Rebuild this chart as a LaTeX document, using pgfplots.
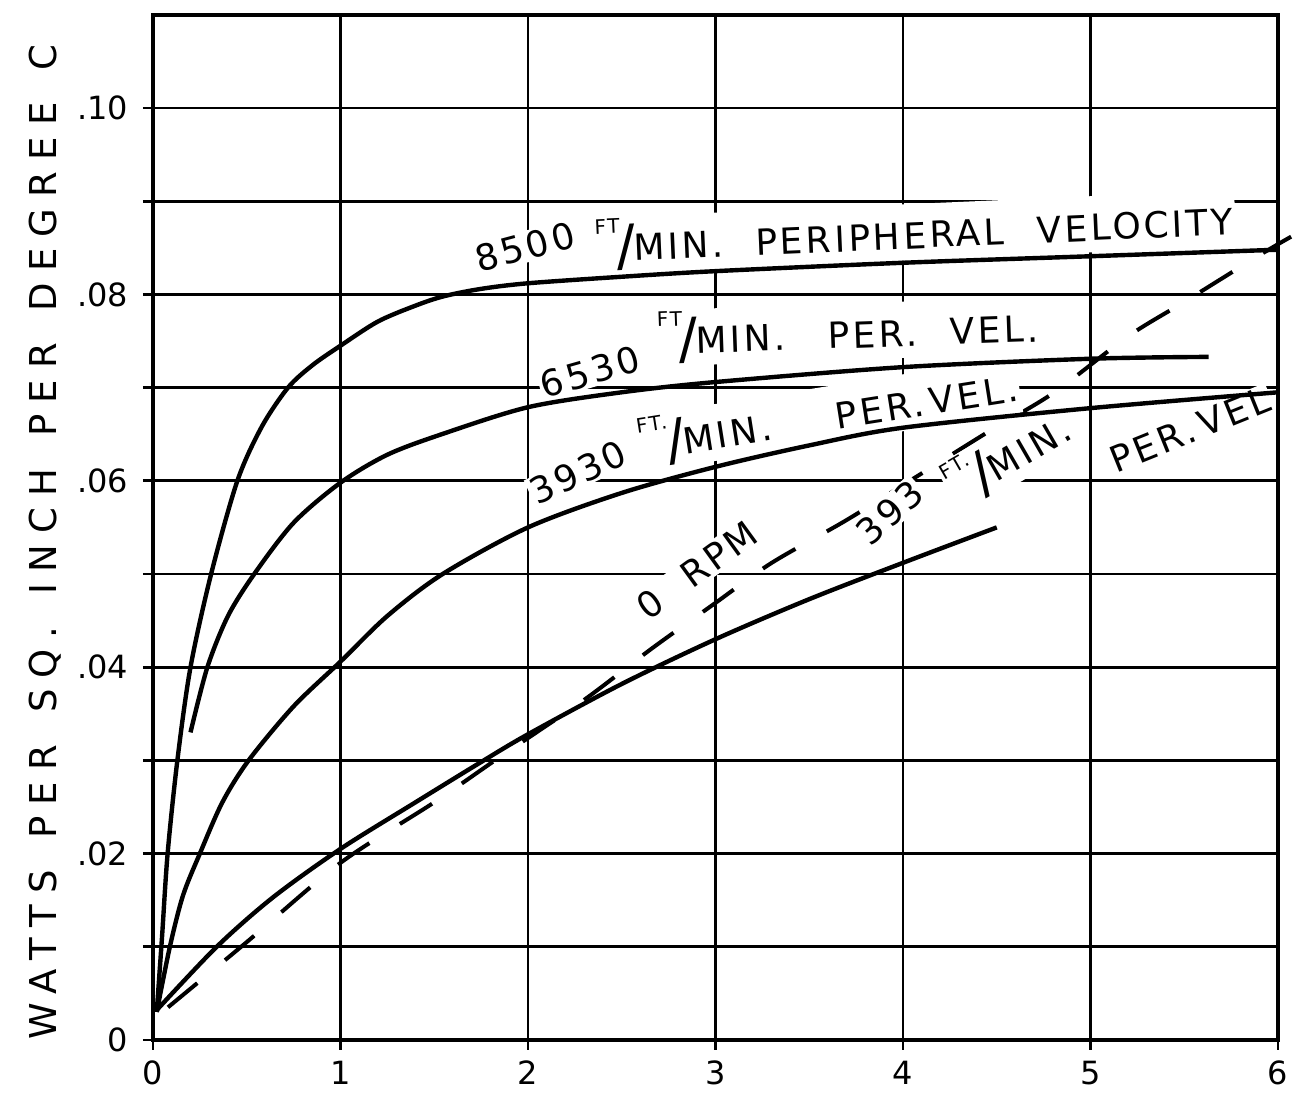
\documentclass[border=0pt]{standalone}
\usepackage{pgfplots}
\pgfplotsset{compat=1.18}
\usepackage{fontspec}
\setmainfont{DejaVu Sans}
\newcommand{\lab}{\fontsize{18}{20}\selectfont\addfontfeature{LetterSpace=9}}
\newcommand{\ft}[1]{\raisebox{0.78em}{\fontsize{10}{10}\selectfont #1}\kern-2pt\raisebox{-0.12em}{\fontsize{28}{28}\selectfont /}\kern-1pt}
\newcommand{\wg}{\hspace{0.9em}}
\tikzset{lbl/.style={fill=white, inner sep=1pt, font=\lab}}
\begin{document}
\begin{tikzpicture}
\begin{axis}[
  scale only axis, width=562.5pt, height=512.5pt,
  xmin=0, xmax=6, ymin=0, ymax=0.11,
  xtick={0,1,2,3,4,5,6}, xticklabels={0,1,2,3,4,5,6},
  ytick={0,0.01,0.02,0.03,0.04,0.05,0.06,0.07,0.08,0.09,0.10},
  yticklabels={0,,.02,,.04,,.06,,.08,,.10},
  tick pos=left, tick align=outside, major tick length=5pt,
  grid=major, major grid style={black, line width=1.4pt},
  axis line style={line width=2.4pt},
  tick style={black, line width=1.4pt},
  ticklabel style={font=\fontsize{16}{16}\selectfont},
  yticklabel style={xshift=-4pt},
  xticklabel style={yshift=-2pt},
  clip=false,
]
% 0 RPM dashed line
\addplot[black, line width=2pt, dash pattern=on 19pt off 18pt, smooth] coordinates {
 (0.08,0.0035) (0.5,0.0105) (1.0,0.019) (1.5,0.0255) (1.86,0.0305) (2.3,0.0365) (2.66,0.042) (3.0,0.0469) (3.3,0.0512) (3.7,0.0558) (4.1,0.0608) (4.45,0.0652) (4.8,0.0694) (5.2,0.0755) (5.5,0.0792) (5.9,0.0842) (6.07,0.0862)
};
% labels
\node[lbl, rotate=15] at (axis cs:1.984,0.0851) {8500};
\node[lbl, rotate=2.5] at (axis cs:4.06,0.0867) {\ft{FT}MIN.\wg PERIPHERAL\wg VELOCITY};
\node[lbl, rotate=16] at (axis cs:2.331,0.0717) {6530};
\node[lbl, rotate=2] at (axis cs:3.707,0.0760) {\ft{FT}MIN.\wg\hspace{0.3em}PER.\wg VEL.};
\node[lbl, rotate=25] at (axis cs:2.267,0.0609) {3930};
\node[lbl, rotate=9] at (axis cs:3.60,0.0671) {\ft{FT.}MIN.\wg\wg PER.\,VEL.};
\node[lbl, rotate=36] at (axis cs:2.90,0.0504) {0\wg RPM};
\node[lbl, rotate=42] at (axis cs:3.93,0.0566) {393};
\node[lbl, rotate=30] at (axis cs:4.56,0.0626) {\ft{FT.}MIN.};
\node[lbl, rotate=22] at (axis cs:5.531,0.0655) {PER.\,VEL};
\node[rotate=90, font=\fontsize{18.5}{20}\selectfont\addfontfeature{LetterSpace=30}] at (axis cs:-0.576,0.0534)
  {WATTS\hspace{16pt}PER\hspace{16pt}SQ.\hspace{16pt}INCH\hspace{16pt}PER\hspace{16pt}DEGREE\hspace{16pt}C};
% 8500
\addplot[black, line width=2.2pt, smooth] coordinates {
 (0.02,0.003) (0.048,0.011) (0.078,0.02) (0.13,0.03) (0.2,0.04) (0.31,0.05) (0.45,0.06) (0.58,0.0658) (0.72,0.07) (0.85,0.0724) (1.0,0.0745) (1.2,0.0771) (1.4,0.0788) (1.55,0.0798) (1.75,0.0806) (2.0,0.0812) (2.5,0.0819) (3,0.0825) (4,0.0834) (5,0.0841) (6,0.0848)
};
% 6530
\addplot[black, line width=2.2pt, smooth] coordinates {
 (0.2,0.033) (0.29,0.04) (0.4,0.0455) (0.54,0.05) (0.75,0.0555) (1.0,0.0598) (1.25,0.0628) (1.54,0.065) (2.0,0.0679) (2.5,0.0695) (3,0.0706) (4,0.0722) (5,0.0731) (5.63,0.0733)
};
% 3930
\addplot[black, line width=2.2pt, smooth] coordinates {
 (0.02,0.003) (0.09,0.01) (0.16,0.0155) (0.25,0.02) (0.37,0.0255) (0.51,0.03) (0.75,0.0358) (1.0,0.0406) (1.25,0.0455) (1.545,0.05) (2.0,0.055) (2.5,0.0587) (3,0.0615) (3.5,0.0638) (4,0.0657) (5,0.0678) (6,0.0695)
};
% 393
\addplot[black, line width=2.2pt, smooth] coordinates {
 (0.02,0.0032) (0.34,0.01) (0.64,0.0153) (1.0,0.0205) (1.4,0.0255) (1.74,0.0297) (2,0.0328) (2.5,0.0382) (3,0.043) (3.5,0.0473) (4,0.0512) (4.5,0.055)
};
\draw[line width=2.4pt] (axis cs:6,0) -- (axis cs:6,0.11);
\coordinate (bl) at (axis cs:-0.816,-0.0059);
\coordinate (tr) at (axis cs:6.1227,0.1116);
\end{axis}
\pgfresetboundingbox
\path[use as bounding box] (bl) rectangle (tr);
\end{tikzpicture}
\end{document}
